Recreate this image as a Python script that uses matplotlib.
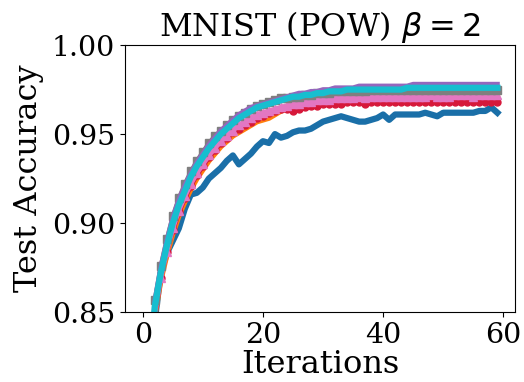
import matplotlib
matplotlib.use("Agg")
import matplotlib.pyplot as plt
import numpy as np

plt.rcParams['font.family'] = 'DejaVu Serif'
plt.rcParams['mathtext.fontset'] = 'dejavusans'

iterations = list(range(60))

acc_blue = [0.600, 0.750, 0.845, 0.872, 0.883, 0.890, 0.897, 0.908, 0.916, 0.917,
            0.920, 0.925, 0.928, 0.931, 0.935, 0.938, 0.933, 0.936, 0.939, 0.943,
            0.946, 0.945, 0.950, 0.948, 0.949, 0.951, 0.952, 0.952, 0.953, 0.955,
            0.957, 0.958, 0.959, 0.960, 0.959, 0.958, 0.957, 0.957, 0.958, 0.959,
            0.961, 0.958, 0.961, 0.961, 0.961, 0.961, 0.961, 0.962, 0.961, 0.960,
            0.962, 0.962, 0.962, 0.962, 0.962, 0.962, 0.963, 0.963, 0.965, 0.962]

acc_orange = [0.680, 0.790, 0.848, 0.868, 0.882, 0.894, 0.904, 0.912, 0.919, 0.925,
              0.930, 0.935, 0.939, 0.943, 0.946, 0.949, 0.951, 0.953, 0.955, 0.957,
              0.958, 0.959, 0.961, 0.963, 0.964, 0.965, 0.966, 0.967, 0.967, 0.968,
              0.968, 0.968, 0.969, 0.969, 0.969, 0.969, 0.969, 0.970, 0.970, 0.970,
              0.970, 0.970, 0.970, 0.970, 0.970, 0.970, 0.970, 0.970, 0.970, 0.970,
              0.970, 0.970, 0.970, 0.971, 0.970, 0.970, 0.971, 0.971, 0.971, 0.971]

acc_red = [0.680, 0.790, 0.848, 0.869, 0.884, 0.896, 0.906, 0.914, 0.921, 0.927,
           0.932, 0.937, 0.941, 0.945, 0.948, 0.951, 0.953, 0.955, 0.957, 0.959,
           0.960, 0.962, 0.963, 0.964, 0.964, 0.963, 0.964, 0.965, 0.966, 0.966,
           0.967, 0.967, 0.967, 0.967, 0.968, 0.968, 0.968, 0.967, 0.968, 0.968,
           0.968, 0.968, 0.968, 0.968, 0.968, 0.968, 0.968, 0.968, 0.968, 0.968,
           0.968, 0.968, 0.968, 0.968, 0.968, 0.968, 0.968, 0.968, 0.968, 0.968]

acc_pink = [0.690, 0.795, 0.849, 0.869, 0.884, 0.897, 0.907, 0.915, 0.922, 0.928,
            0.933, 0.938, 0.942, 0.946, 0.949, 0.952, 0.955, 0.957, 0.959, 0.961,
            0.962, 0.963, 0.964, 0.965, 0.966, 0.967, 0.967, 0.968, 0.968, 0.969,
            0.969, 0.969, 0.970, 0.970, 0.970, 0.970, 0.971, 0.970, 0.971, 0.971,
            0.971, 0.971, 0.971, 0.971, 0.971, 0.971, 0.971, 0.971, 0.972, 0.971,
            0.971, 0.971, 0.972, 0.972, 0.972, 0.971, 0.972, 0.972, 0.972, 0.972]

acc_gray = [0.700, 0.805, 0.857, 0.876, 0.891, 0.904, 0.914, 0.922, 0.929, 0.935,
            0.940, 0.945, 0.949, 0.952, 0.955, 0.958, 0.960, 0.962, 0.964, 0.966,
            0.967, 0.968, 0.969, 0.970, 0.970, 0.971, 0.971, 0.972, 0.972, 0.973,
            0.973, 0.973, 0.974, 0.974, 0.974, 0.974, 0.974, 0.974, 0.975, 0.975,
            0.975, 0.975, 0.975, 0.975, 0.975, 0.975, 0.975, 0.975, 0.975, 0.975,
            0.975, 0.975, 0.975, 0.975, 0.975, 0.975, 0.975, 0.975, 0.975, 0.975]

acc_purple = [0.700, 0.805, 0.856, 0.875, 0.890, 0.903, 0.913, 0.921, 0.928, 0.934,
              0.939, 0.944, 0.948, 0.952, 0.955, 0.958, 0.961, 0.963, 0.965, 0.966,
              0.967, 0.968, 0.969, 0.970, 0.971, 0.972, 0.973, 0.973, 0.974, 0.974,
              0.975, 0.975, 0.976, 0.976, 0.976, 0.976, 0.977, 0.977, 0.977, 0.977,
              0.977, 0.977, 0.977, 0.977, 0.977, 0.978, 0.978, 0.978, 0.978, 0.978,
              0.978, 0.978, 0.978, 0.978, 0.978, 0.978, 0.978, 0.978, 0.978, 0.978]

acc_cyan = [0.700, 0.800, 0.853, 0.872, 0.887, 0.900, 0.910, 0.918, 0.926, 0.932,
            0.937, 0.942, 0.946, 0.950, 0.953, 0.956, 0.959, 0.961, 0.963, 0.965,
            0.966, 0.967, 0.968, 0.969, 0.970, 0.971, 0.971, 0.972, 0.972, 0.973,
            0.973, 0.974, 0.974, 0.974, 0.975, 0.975, 0.975, 0.975, 0.975, 0.975,
            0.975, 0.975, 0.975, 0.975, 0.976, 0.976, 0.976, 0.976, 0.976, 0.976,
            0.976, 0.976, 0.976, 0.976, 0.976, 0.976, 0.976, 0.976, 0.976, 0.976]

fig = plt.figure(figsize=(5.24, 3.82), dpi=100)
ax = fig.add_axes([0.2385, 0.183, 0.7445, 0.699])

x = np.array(iterations)
ax.plot(x, acc_blue, color='#1a6fa8', lw=4.5)
ax.plot(x, acc_orange, color='#ff7f0e', lw=4.0)
ax.plot(x, acc_red, color='#d6183a', lw=3.5, marker='o', ms=5)
ax.plot(x, acc_pink, color='#e377c2', lw=3.5, marker='^', ms=6)
ax.plot(x, acc_gray, color='#7f7f7f', lw=3.0, marker='s', ms=6)
ax.plot(x, acc_purple, color='#9467bd', lw=3.5)
ax.plot(x, acc_cyan, color='#17becf', lw=4.5)

ax.set_ylim(0.85, 1.0)
ax.set_xticks([0, 20, 40, 60])
ax.set_yticks([0.85, 0.90, 0.95, 1.00])
ax.tick_params(labelsize=20.5)
ax.set_xlabel('Iterations', fontsize=23, labelpad=0)
ax.set_ylabel('Test Accuracy', fontsize=23, labelpad=6)
ax.set_title(r'MNIST (POW) $\beta = 2$', fontsize=23, pad=3)

fig.savefig('out.png', dpi=100)
